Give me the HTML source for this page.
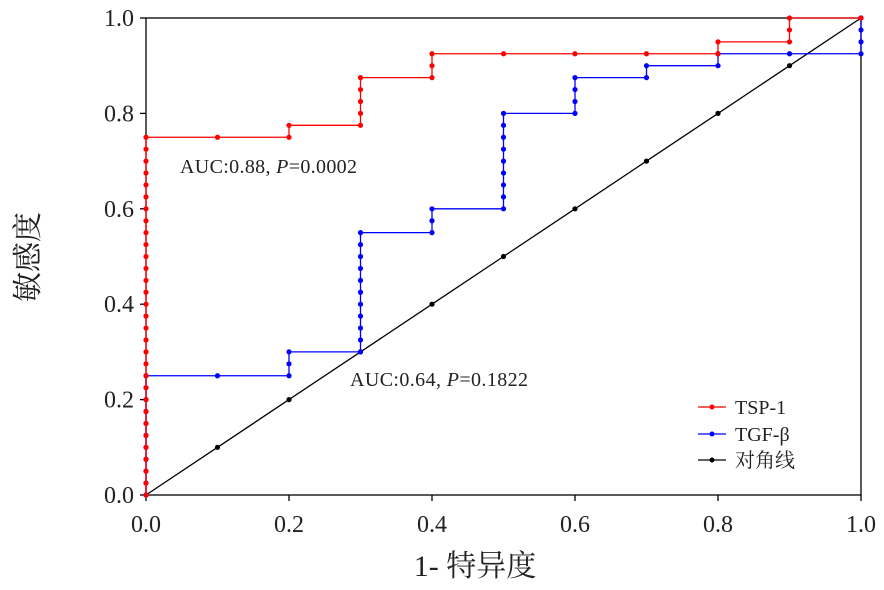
<!DOCTYPE html>
<html><head><meta charset="utf-8"><style>
body{margin:0;background:#fff;width:884px;height:590px;overflow:hidden}
svg{display:block}
text{font-family:"Liberation Serif","Noto Serif CJK SC",serif;fill:#222}
</style></head><body>
<svg id="s" width="884" height="590" xmlns="http://www.w3.org/2000/svg">
<g stroke="#000" stroke-width="1.3" fill="none">
<rect x="146" y="18" width="715" height="477"/>
</g>
<g id="ticks" stroke="#000" stroke-width="1.3"></g>
<g id="labels" font-size="24"></g>
<g id="plot"></g>
<text x="180" y="173" font-size="20" textLength="177">AUC:0.88, <tspan font-style="italic">P</tspan>=0.0002</text>
<text x="350" y="386" font-size="20" textLength="178">AUC:0.64, <tspan font-style="italic">P</tspan>=0.1822</text>
<g font-size="20">
<line x1="698" y1="407" x2="726" y2="407" stroke="red" stroke-width="1.3"/><circle cx="712" cy="407" r="2.5" fill="red"/>
<text x="735" y="414">TSP-1</text>
<line x1="698" y1="434" x2="726" y2="434" stroke="blue" stroke-width="1.3"/><circle cx="712" cy="434" r="2.5" fill="blue"/>
<text x="735" y="441">TGF-β</text>
<line x1="698" y1="460" x2="726" y2="460" stroke="#000" stroke-width="1.3"/><circle cx="712" cy="460" r="2.5" fill="#000"/>
<text x="735" y="467">对角线</text>
</g>
<text x="475" y="576" font-size="30" text-anchor="middle">1- 特异度</text>
<text transform="translate(38,257) rotate(-90)" font-size="30" text-anchor="middle">敏感度</text>
</svg>
<script>
const X=v=>146+715*v, Y=v=>495-477*v, ns="http://www.w3.org/2000/svg";
const t=document.getElementById('ticks'), l=document.getElementById('labels'), p=document.getElementById('plot');
function el(par,tag,a,txt){const e=document.createElementNS(ns,tag);for(const k in a)e.setAttribute(k,a[k]);if(txt)e.textContent=txt;par.appendChild(e);return e;}
for(let i=0;i<=5;i++){const v=i*0.2,s=v.toFixed(1);
el(t,'line',{x1:X(v),y1:495,x2:X(v),y2:501});
el(t,'line',{x1:140,y1:Y(v),x2:146,y2:Y(v)});
el(l,'text',{x:X(v),y:532,'text-anchor':'middle'},s);
el(l,'text',{x:134,y:Y(v)+8,'text-anchor':'end'},s);}
function series(pts,c){el(p,'polyline',{points:pts.map(q=>X(q[0])+','+Y(q[1])).join(' '),fill:'none',stroke:c,'stroke-width':1.3});
pts.forEach(q=>el(p,'circle',{cx:X(q[0]),cy:Y(q[1]),r:2.6,fill:c}));}
let d=[];for(let i=0;i<=10;i++)d.push([i/10,i/10]);
let b=[[0,0]];for(let i=1;i<=10;i++)b.push([0,i*0.025]);
b.push([0.1,0.25],[0.2,0.25],[0.2,0.275],[0.2,0.3],[0.3,0.3]);
for(let i=13;i<=22;i++)b.push([0.3,i*0.025]);
b.push([0.4,0.55],[0.4,0.575],[0.4,0.6],[0.5,0.6]);
for(let i=25;i<=32;i++)b.push([0.5,i*0.025]);
b.push([0.6,0.8],[0.6,0.825],[0.6,0.85],[0.6,0.875],[0.7,0.875],[0.7,0.9],[0.8,0.9],[0.8,0.925],[0.9,0.925],[1,0.925],[1,0.95],[1,0.975],[1,1]);
let r=[];for(let i=0;i<=30;i++)r.push([0,i*0.025]);
r.push([0.1,0.75],[0.2,0.75],[0.2,0.775],[0.3,0.775],[0.3,0.8],[0.3,0.825],[0.3,0.85],[0.3,0.875],[0.4,0.875],[0.4,0.9],[0.4,0.925],[0.5,0.925],[0.6,0.925],[0.7,0.925],[0.8,0.925],[0.8,0.95],[0.9,0.95],[0.9,0.975],[0.9,1],[1,1]);
series(d,'#000');series(b,'blue');series(r,'red');
</script>
</body></html>
